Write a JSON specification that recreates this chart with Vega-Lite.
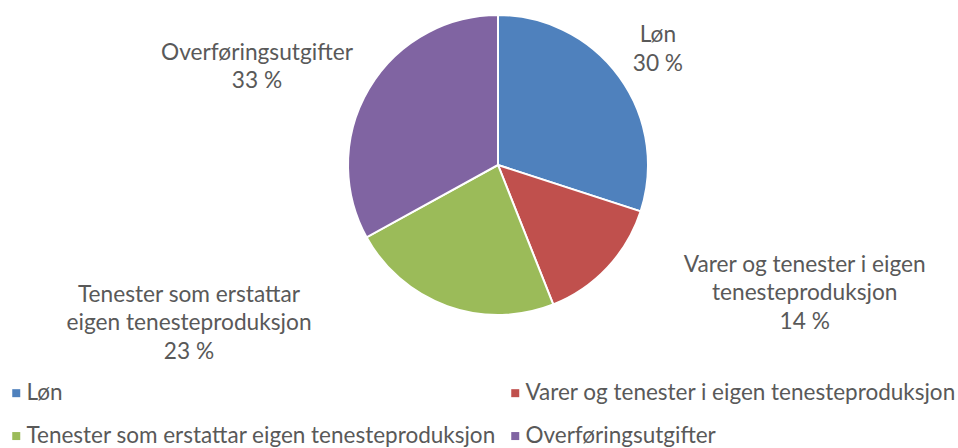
{
  "$schema": "https://vega.github.io/schema/vega-lite/v6.json",
  "width": 916,
  "height": 330,
  "autosize": {"type": "none"},
  "padding": {"left": 40, "top": 0, "right": 2, "bottom": 118},
  "background": "white",
  "config": {"view": {"stroke": null}, "font": "Lato"},
  "data": {
    "values": [
      {"idx": 1, "cat": "Løn", "pct": 30, "label": ["Løn", "30 %"]},
      {"idx": 2, "cat": "Varer og tenester i eigen tenesteproduksjon", "pct": 14, "label": ["Varer og tenester i eigen", "tenesteproduksjon", "14 %"]},
      {"idx": 3, "cat": "Tenester som erstattar eigen tenesteproduksjon", "pct": 23, "label": ["Tenester som erstattar", "eigen tenesteproduksjon", "23 %"]},
      {"idx": 4, "cat": "Overføringsutgifter", "pct": 33, "label": ["Overføringsutgifter", "33 %"]}
    ]
  },
  "encoding": {
    "theta": {"field": "pct", "type": "quantitative", "stack": true},
    "order": {"field": "idx", "type": "quantitative"}
  },
  "layer": [
    {
      "mark": {"type": "arc", "outerRadius": 150, "stroke": "white", "strokeWidth": 2},
      "encoding": {
        "color": {
          "field": "cat",
          "type": "nominal",
          "scale": {
            "domain": ["Løn", "Varer og tenester i eigen tenesteproduksjon", "Tenester som erstattar eigen tenesteproduksjon", "Overføringsutgifter"],
            "range": ["#4F81BD", "#C0504D", "#9BBB59", "#8064A2"]
          },
          "legend": {
            "orient": "none",
            "legendX": -35,
            "legendY": 381.8,
            "direction": "horizontal",
            "columns": 2,
            "title": null,
            "symbolType": "square",
            "symbolSize": 64,
            "symbolStrokeWidth": 0,
            "labelFont": "Lato",
            "labelFontSize": 22.5,
            "labelColor": "#595959",
            "labelLimit": 700,
            "labelOffset": -1,
            "columnPadding": 7,
            "rowPadding": 20,
            "padding": 0
          }
        }
      }
    },
    {
      "mark": {"type": "text", "radius": 205.8, "fontSize": 22.7, "fill": "#595959", "lineHeight": 28.5},
      "encoding": {
        "theta": {"field": "pct", "type": "quantitative", "stack": true, "bandPosition": 0.472},
        "text": {"condition": {"test": "datum.idx === 1", "field": "label"}, "value": ""}
      }
    },
    {
      "mark": {"type": "text", "radius": 322.6, "fontSize": 22.7, "fill": "#595959", "lineHeight": 28.5},
      "encoding": {
        "theta": {"field": "pct", "type": "quantitative", "stack": true, "bandPosition": 0.001},
        "text": {"condition": {"test": "datum.idx === 2", "field": "label"}, "value": ""}
      }
    },
    {
      "mark": {"type": "text", "radius": 352.6, "dy": -40, "fontSize": 22.7, "fill": "#595959", "lineHeight": 28.5},
      "encoding": {
        "theta": {"field": "pct", "type": "quantitative", "stack": true, "bandPosition": 1},
        "text": {"condition": {"test": "datum.idx === 3", "field": "label"}, "value": ""}
      }
    },
    {
      "mark": {"type": "text", "radius": 266, "fontSize": 22.7, "fill": "#595959", "lineHeight": 28.5},
      "encoding": {
        "theta": {"field": "pct", "type": "quantitative", "stack": true, "bandPosition": 0.453},
        "text": {"condition": {"test": "datum.idx === 4", "field": "label"}, "value": ""}
      }
    }
  ]
}
